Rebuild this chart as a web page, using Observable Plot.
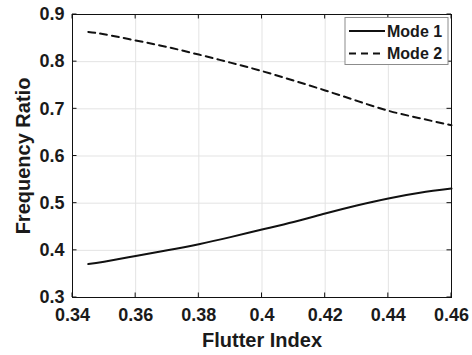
<!DOCTYPE html>
<html>
<head>
<meta charset="utf-8">
<script src="https://cdn.jsdelivr.net/npm/d3@7"></script>
<script src="https://cdn.jsdelivr.net/npm/@observablehq/plot@0.6"></script>
<style>
  html, body { margin: 0; padding: 0; background: #fff; }
  #chart { width: 472px; height: 355px; }
</style>
</head>
<body>
<div id="chart"></div>
<script>
const flutterIndex = [0.345, 0.35, 0.36, 0.37, 0.38, 0.39, 0.40, 0.41, 0.42, 0.43, 0.44, 0.45, 0.46];
const mode1 = [0.371, 0.376, 0.388, 0.400, 0.413, 0.428, 0.444, 0.460, 0.478, 0.495, 0.510, 0.522, 0.531];
const mode2 = [0.863, 0.858, 0.845, 0.831, 0.815, 0.798, 0.780, 0.760, 0.739, 0.717, 0.696, 0.680, 0.665];
const xTicks = [0.34, 0.36, 0.38, 0.40, 0.42, 0.44, 0.46];
const xTickLabels = ["0.34", "0.36", "0.38", "0.4", "0.42", "0.44", "0.46"];
const yTicks = [0.3, 0.4, 0.5, 0.6, 0.7, 0.8, 0.9];
const yTickLabels = ["0.3", "0.4", "0.5", "0.6", "0.7", "0.8", "0.9"];
const seriesNames = ["Mode 1", "Mode 2"];
const xLabel = "Flutter Index";
const yLabel = "Frequency Ratio";

const rows = [];
flutterIndex.forEach((x, i) => {
  rows.push({x, y: mode1[i], series: seriesNames[0]});
  rows.push({x, y: mode2[i], series: seriesNames[1]});
});

const font = "'Liberation Sans', Arial, sans-serif";
const dashes = {"Mode 1": null, "Mode 2": "7,5"};

const chart = Plot.plot({
  width: 472,
  height: 355,
  marginLeft: 72,
  marginRight: 21,
  marginTop: 14,
  marginBottom: 58,
  style: {fontFamily: font, fontWeight: "bold", fontSize: "18px", color: "#1a1a1a", background: "#fff"},
  x: {domain: [0.34, 0.46]},
  y: {domain: [0.3, 0.9]},
  marks: [
    Plot.gridX(xTicks, {stroke: "#e3e3e3", strokeOpacity: 1, strokeWidth: 1}),
    Plot.gridY(yTicks, {stroke: "#e3e3e3", strokeOpacity: 1, strokeWidth: 1}),
    ...seriesNames.map(s => Plot.line(rows.filter(r => r.series === s), {
      x: "x", y: "y", stroke: "#111", strokeWidth: 2, curve: "natural",
      strokeDasharray: dashes[s]
    })),
    Plot.frame({stroke: "#111", strokeWidth: 1}),
    Plot.axisX(xTicks, {tickSize: 0, tickPadding: 11, label: null,
      tickFormat: (d, i) => xTickLabels[i], fontSize: 18, fontWeight: "bold", fill: "#1a1a1a"}),
    Plot.axisY(yTicks, {tickSize: 0, tickPadding: 8, label: null,
      tickFormat: (d, i) => yTickLabels[i], fontSize: 18, fontWeight: "bold", fill: "#1a1a1a"}),
    Plot.text([xLabel], {frameAnchor: "bottom", lineAnchor: "middle", textAnchor: "middle", dy: 43,
      fontSize: 20, fontWeight: "bold", fill: "#1a1a1a"}),
    Plot.text([yLabel], {frameAnchor: "left", lineAnchor: "middle", textAnchor: "middle", rotate: -90, dx: -49,
      fontSize: 20, fontWeight: "bold", fill: "#1a1a1a"})
  ]
});

document.getElementById("chart").appendChild(chart);

// inward ticks on all four sides (MATLAB style), positioned through the plot's scales
const sx = chart.scale("x"), sy = chart.scale("y");
const svg = d3.select(chart);
const x0 = sx.apply(0.34), x1 = sx.apply(0.46);
const y0 = sy.apply(0.3), y1 = sy.apply(0.9);
const tl = 4.5;
const tg = svg.append("g").attr("stroke", "#111").attr("stroke-width", 1);
xTicks.forEach(t => {
  const px = sx.apply(t);
  tg.append("line").attr("x1", px).attr("x2", px).attr("y1", y0).attr("y2", y0 - tl);
  tg.append("line").attr("x1", px).attr("x2", px).attr("y1", y1).attr("y2", y1 + tl);
});
yTicks.forEach(t => {
  const py = sy.apply(t);
  tg.append("line").attr("y1", py).attr("y2", py).attr("x1", x0).attr("x2", x0 + tl);
  tg.append("line").attr("y1", py).attr("y2", py).attr("x1", x1).attr("x2", x1 - tl);
});

// legend box (top-right inside the frame)
const lg = svg.append("g");
const lx = x1 - 106, ly = y1 + 3.5, lw = 103, lh = 47;
lg.append("rect").attr("x", lx).attr("y", ly).attr("width", lw).attr("height", lh)
  .attr("fill", "#fff").attr("stroke", "#8c8c8c").attr("stroke-width", 1);
seriesNames.forEach((s, i) => {
  const yy = ly + 13.5 + i * 22.5;
  lg.append("line").attr("x1", lx + 4).attr("x2", lx + 40).attr("y1", yy).attr("y2", yy)
    .attr("stroke", "#111").attr("stroke-width", 2).attr("stroke-dasharray", dashes[s]);
  lg.append("text").attr("x", lx + 42).attr("y", yy).attr("dy", "0.36em")
    .attr("text-anchor", "start")
    .attr("font-family", font).attr("font-weight", "bold").attr("font-size", 16)
    .attr("fill", "#1a1a1a").text(s);
});
</script>
</body>
</html>
